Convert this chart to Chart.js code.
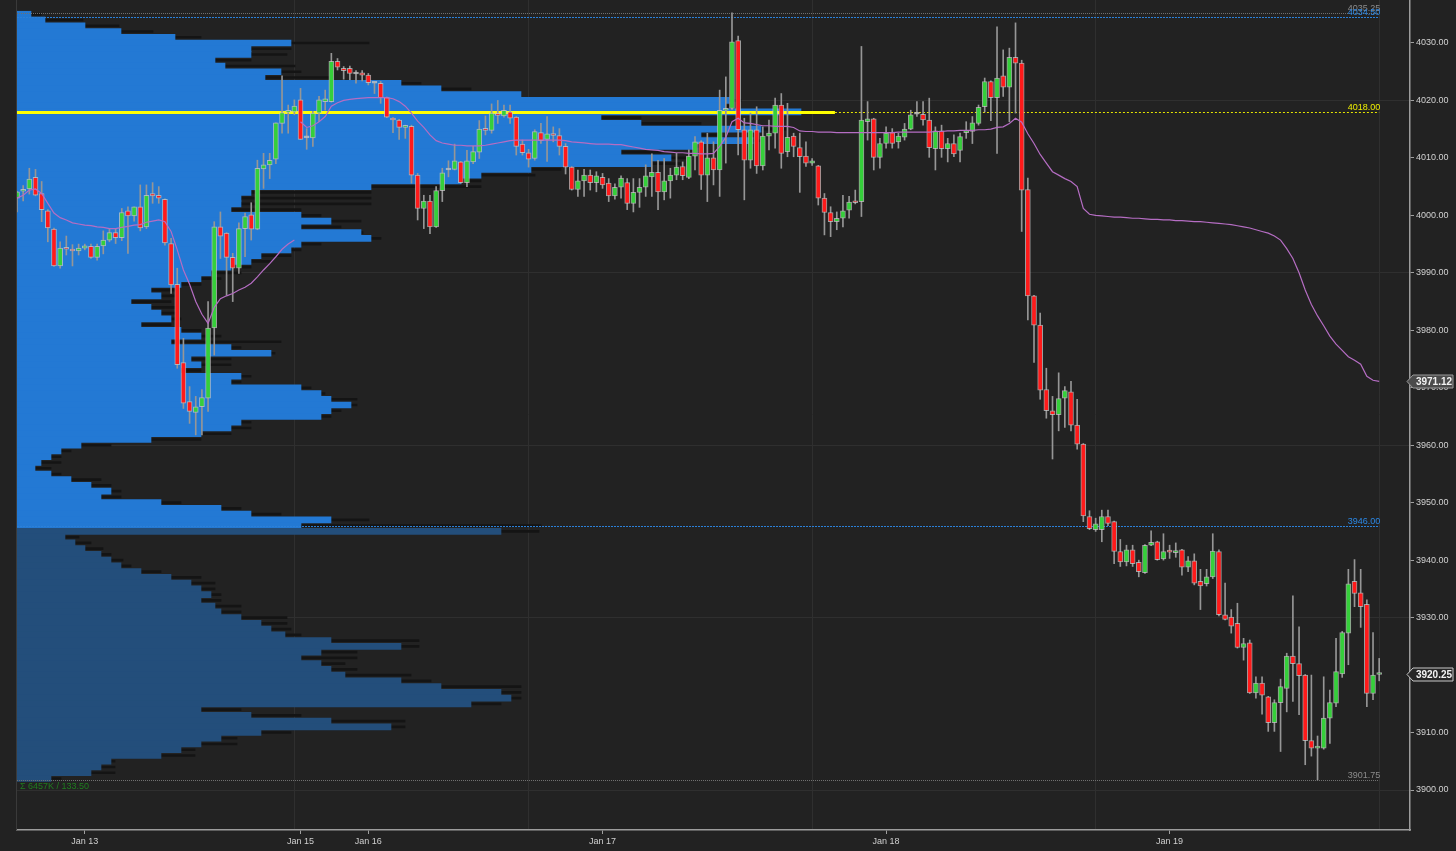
<!DOCTYPE html>
<html>
<head>
<meta charset="utf-8">
<title>ES 30 min</title>
<script src="https://cdn.jsdelivr.net/npm/chart.js@4.4.1/dist/chart.umd.min.js"></script>
<style>
  html, body { margin: 0; padding: 0; background: #222222; }
  #wrap { width: 1456px; height: 851px; position: relative; }
</style>
</head>
<body>
<div id="wrap"><canvas id="chart" width="1456" height="851"></canvas></div>
<script>
// 30 minute bars, Jan 12 evening to Jan 19 afternoon
const slotCount = 227; // time slots on the axis, the last ones are empty

const opens = [
  4003.0, 4004.2, 4004.6, 4006.6, 4003.8, 4000.8, 3997.6, 3991.2, 3994.3, 3994.1,
  3993.8, 3994.3, 3994.6, 3992.7, 3994.7, 3995.7, 3997.0, 3996.1, 4000.8, 3999.9,
  4001.5, 3998.0, 4003.8, 4003.5, 4002.8, 3995.1, 3988.0, 3974.4, 3967.6, 3965.7,
  3966.7, 3968.2, 3980.4, 3998.0, 3996.9, 3992.7, 3990.8, 3997.7, 4000.1, 3997.6,
  4008.1, 4008.8, 4009.8, 4016.0, 4017.9, 4018.0, 4020.1, 4013.5, 4013.5, 4017.8,
  4019.8, 4019.8, 4026.8, 4025.6, 4025.6, 4024.6, 4024.8, 4024.4, 4023.0, 4023.0,
  4020.5, 4016.9, 4016.6, 4015.3, 4015.5, 4007.0, 4001.2, 4002.5, 3998.0, 4004.3,
  4007.9, 4008.0, 4009.3, 4005.7, 4009.3, 4011.0, 4015.1, 4014.8, 4017.6, 4017.3,
  4018.0, 4017.1, 4012.4, 4010.9, 4009.9, 4014.4, 4013.2, 4014.2, 4013.9, 4012.0,
  4008.4, 4004.5, 4006.0, 4007.0, 4005.7, 4006.6, 4005.6, 4003.4, 4004.9, 4005.7,
  4002.1, 4004.0, 4004.9, 4006.7, 4007.5, 4004.1, 4006.0, 4007.0, 4008.5, 4006.6,
  4010.3, 4012.8, 4007.0, 4010.0, 4007.9, 4018.3, 4018.6, 4030.4, 4014.9, 4009.6,
  4014.9, 4008.6, 4013.8, 4014.3, 4019.2, 4011.1, 4013.8, 4011.8, 4010.3, 4009.1,
  4008.6, 4003.0, 4000.5, 3998.9, 3999.5, 4000.9, 4002.3, 4002.4, 4016.3, 4016.8,
  4010.1, 4012.5, 4014.4, 4012.8, 4013.6, 4015.0, 4017.6, 4017.6, 4016.6, 4011.6,
  4014.7, 4011.6, 4012.5, 4011.3, 4014.4, 4014.6, 4016.0, 4018.9, 4023.3, 4020.5,
  4024.3, 4022.3, 4027.5, 4026.5, 4004.5, 3986.0, 3980.9, 3969.7, 3966.0, 3965.3,
  3968.2, 3969.3, 3963.5, 3960.2, 3947.6, 3945.3, 3945.3, 3947.6, 3946.7, 3941.5,
  3939.7, 3941.8, 3939.6, 3937.8, 3942.6, 3943.2, 3940.2, 3941.5, 3941.3, 3941.8,
  3938.8, 3939.9, 3936.3, 3935.9, 3937.1, 3941.5, 3930.5, 3930.1, 3929.0, 3924.8,
  3925.6, 3916.9, 3918.6, 3916.2, 3911.7, 3915.2, 3917.7, 3923.3, 3922.0, 3920.0,
  3908.6, 3907.3, 3907.3, 3912.5, 3915.1, 3920.2, 3927.3, 3936.3, 3934.3, 3932.3,
  3916.8, 3920.1
];

const highs = [
  4004.2, 4005.2, 4008.2, 4008.0, 4005.9, 4001.0, 3997.8, 3995.4, 3996.4, 3994.9,
  3995.0, 3995.0, 3995.0, 3995.0, 3997.3, 3997.7, 3997.7, 4001.2, 4001.5, 4001.5,
  4005.3, 4005.3, 4005.7, 4005.0, 4002.9, 3996.0, 3990.8, 3978.6, 3970.2, 3968.5,
  3969.7, 3985.0, 3998.9, 4000.6, 3997.0, 3993.4, 3998.7, 4000.4, 4002.2, 4009.6,
  4010.8, 4010.8, 4016.1, 4024.3, 4019.2, 4020.1, 4022.1, 4015.1, 4018.1, 4020.7,
  4021.8, 4028.2, 4027.3, 4025.9, 4026.0, 4025.2, 4025.2, 4024.7, 4023.1, 4023.3,
  4020.6, 4017.0, 4016.7, 4015.7, 4015.7, 4007.3, 4003.5, 4003.5, 4005.0, 4008.2,
  4009.5, 4012.4, 4009.4, 4011.3, 4012.0, 4016.5, 4017.3, 4019.4, 4020.0, 4019.2,
  4019.2, 4017.2, 4013.1, 4011.5, 4014.9, 4016.0, 4017.2, 4015.4, 4015.1, 4012.5,
  4008.5, 4007.9, 4008.0, 4007.9, 4007.6, 4007.3, 4006.4, 4005.5, 4006.9, 4006.4,
  4006.4, 4006.4, 4008.8, 4010.7, 4009.6, 4009.9, 4008.2, 4010.8, 4009.3, 4011.4,
  4013.7, 4013.0, 4014.3, 4012.8, 4021.8, 4024.1, 4035.25, 4031.2, 4016.9, 4017.8,
  4018.9, 4015.4, 4016.6, 4020.4, 4021.2, 4019.5, 4014.3, 4014.3, 4012.8, 4009.9,
  4008.7, 4003.8, 4001.5, 4000.6, 4003.5, 4003.3, 4004.4, 4029.4, 4019.8, 4016.9,
  4013.4, 4015.4, 4015.1, 4014.3, 4016.0, 4018.3, 4019.8, 4019.8, 4020.4, 4015.4,
  4015.7, 4013.4, 4014.0, 4014.3, 4016.3, 4017.2, 4019.2, 4023.9, 4023.4, 4032.8,
  4028.8, 4029.1, 4033.5, 4027.0, 4006.5, 3986.1, 3983.0, 3973.4, 3968.5, 3972.6,
  3970.2, 3971.1, 3968.0, 3960.3, 3948.6, 3947.3, 3948.7, 3948.7, 3946.8, 3943.6,
  3942.6, 3942.6, 3940.0, 3942.7, 3945.1, 3943.3, 3944.6, 3942.6, 3943.0, 3941.9,
  3940.6, 3941.1, 3938.4, 3938.4, 3944.6, 3941.8, 3936.0, 3931.4, 3932.5, 3926.4,
  3926.1, 3919.7, 3919.7, 3916.3, 3915.7, 3919.3, 3923.8, 3933.8, 3928.4, 3920.1,
  3920.0, 3909.4, 3919.7, 3917.4, 3926.4, 3927.6, 3938.4, 3940.1, 3938.4, 3933.1,
  3927.4, 3922.9
];

const lows = [
  4000.6, 4002.5, 4003.7, 4003.4, 3998.9, 3995.4, 3991.1, 3990.8, 3993.1, 3991.2,
  3993.1, 3994.0, 3992.5, 3992.2, 3993.3, 3995.4, 3995.1, 3995.6, 3993.4, 3999.0,
  3997.3, 3997.7, 4002.1, 4002.1, 3994.8, 3986.4, 3973.4, 3966.4, 3963.8, 3961.8,
  3961.8, 3965.9, 3975.7, 3992.5, 3986.1, 3985.0, 3989.9, 3992.8, 3995.7, 3997.5,
  4004.7, 4006.4, 4009.0, 4014.3, 4014.3, 4017.5, 4013.2, 4011.5, 4012.0, 4016.3,
  4018.3, 4019.7, 4025.3, 4023.7, 4023.6, 4023.0, 4023.4, 4022.7, 4021.2, 4019.5,
  4017.0, 4014.4, 4013.2, 4013.4, 4005.6, 3999.2, 3997.7, 3996.8, 3997.9, 4002.4,
  4006.7, 4007.9, 4005.6, 4005.0, 4009.0, 4009.9, 4014.0, 4014.3, 4016.0, 4017.1,
  4016.0, 4010.5, 4010.5, 4008.4, 4009.6, 4012.5, 4009.4, 4012.8, 4010.5, 4007.2,
  4004.4, 4003.3, 4003.3, 4004.4, 4004.1, 4004.7, 4002.4, 4002.8, 4003.0, 4001.0,
  4000.6, 4001.4, 4003.3, 4003.3, 4001.0, 4002.7, 4003.0, 4006.2, 4006.2, 4006.4,
  4007.9, 4004.5, 4002.4, 4005.3, 4003.3, 4009.1, 4018.4, 4010.5, 4002.7, 4008.2,
  4007.3, 4007.9, 4011.4, 4011.7, 4008.2, 4010.2, 4010.2, 4004.0, 4008.5, 4008.7,
  4001.8, 3996.6, 3996.3, 3997.5, 3998.0, 3999.5, 4002.0, 3999.8, 4013.1, 4007.9,
  4008.2, 4011.7, 4011.7, 4011.7, 4013.1, 4014.9, 4017.2, 4015.7, 4010.1, 4007.9,
  4010.1, 4009.3, 4010.2, 4009.3, 4013.4, 4012.5, 4015.7, 4018.0, 4016.5, 4010.8,
  4020.7, 4016.3, 4017.8, 3997.2, 3981.8, 3974.4, 3968.0, 3964.7, 3957.6, 3962.5,
  3963.1, 3962.5, 3959.3, 3946.7, 3945.3, 3945.0, 3943.2, 3946.0, 3939.4, 3938.9,
  3939.0, 3938.9, 3937.1, 3937.7, 3942.5, 3940.0, 3940.0, 3940.3, 3940.5, 3937.4,
  3938.0, 3935.7, 3931.4, 3935.5, 3936.8, 3930.3, 3929.6, 3927.3, 3924.7, 3922.6,
  3916.8, 3916.0, 3913.2, 3910.2, 3910.2, 3906.7, 3913.6, 3915.4, 3913.1, 3904.4,
  3905.9, 3901.75, 3907.1, 3908.1, 3914.5, 3919.6, 3921.8, 3931.9, 3928.3, 3914.5,
  3915.7, 3919.0
];

const closes = [
  4004.1, 4004.5, 4006.3, 4003.5, 4001.0, 3997.8, 3991.2, 3994.3, 3994.1, 3993.8,
  3994.3, 3994.7, 3992.7, 3994.6, 3995.7, 3997.0, 3996.1, 4000.5, 3999.9, 4001.5,
  3997.8, 4003.5, 4003.4, 4003.0, 3995.2, 3987.9, 3974.0, 3967.3, 3965.9, 3966.7,
  3968.3, 3980.4, 3998.0, 3996.4, 3992.7, 3990.8, 3997.7, 3999.8, 3997.6, 4008.2,
  4008.8, 4009.6, 4016.1, 4017.9, 4018.3, 4019.0, 4013.2, 4013.5, 4017.8, 4020.1,
  4020.3, 4026.8, 4025.8, 4025.2, 4024.7, 4024.6, 4024.4, 4023.1, 4023.0, 4020.5,
  4017.1, 4016.6, 4015.3, 4015.5, 4007.0, 4001.2, 4002.5, 3998.0, 4004.3, 4007.4,
  4007.9, 4009.5, 4005.7, 4009.5, 4011.1, 4015.0, 4014.8, 4017.8, 4017.4, 4018.3,
  4016.9, 4012.0, 4010.9, 4009.8, 4014.6, 4013.0, 4014.2, 4013.9, 4012.0, 4008.4,
  4004.5, 4006.0, 4007.0, 4005.7, 4006.9, 4005.3, 4003.4, 4004.9, 4006.5, 4002.1,
  4004.0, 4004.9, 4006.9, 4007.5, 4004.1, 4006.0, 4007.0, 4008.4, 4006.9, 4010.3,
  4012.8, 4007.0, 4010.0, 4007.9, 4018.3, 4018.5, 4030.2, 4014.9, 4009.6, 4014.9,
  4008.6, 4013.8, 4014.3, 4019.2, 4010.8, 4013.6, 4012.0, 4010.2, 4009.1, 4009.5,
  4003.0, 4000.5, 3998.9, 3999.5, 4000.8, 4002.3, 4002.2, 4016.6, 4016.8, 4010.1,
  4012.5, 4014.3, 4012.5, 4013.8, 4015.0, 4017.5, 4017.6, 4016.6, 4011.8, 4014.7,
  4011.6, 4012.5, 4010.7, 4013.7, 4014.6, 4016.1, 4018.8, 4023.3, 4020.5, 4023.9,
  4022.3, 4027.5, 4026.5, 4004.4, 3986.0, 3980.9, 3969.6, 3966.0, 3965.3, 3968.1,
  3969.5, 3963.5, 3960.2, 3947.7, 3945.5, 3946.3, 3947.6, 3946.4, 3941.5, 3939.7,
  3941.8, 3939.4, 3938.0, 3942.6, 3943.1, 3940.1, 3941.5, 3941.4, 3941.6, 3938.8,
  3939.9, 3936.0, 3935.5, 3937.1, 3941.6, 3930.5, 3929.7, 3928.5, 3924.8, 3925.5,
  3916.9, 3918.6, 3916.5, 3911.7, 3915.2, 3918.0, 3923.3, 3922.0, 3919.9, 3908.6,
  3907.3, 3907.5, 3912.5, 3915.2, 3920.6, 3927.4, 3935.9, 3934.2, 3931.9, 3916.8,
  3920.0, 3920.25
];

// VWAP, restarts with the Sunday open (bar 46)
const vwap = [
  4003.0, 4003.5, 4004.4, 4004.6, 4003.8, 4002.1, 4000.4, 3999.6, 3999.2, 3998.7,
  3998.5, 3998.3, 3998.2, 3998.0, 3997.9, 3997.7, 3997.7, 3997.9, 3998.1, 3998.3,
  3998.4, 3998.8, 3999.0, 3999.2, 3998.9, 3997.2, 3994.0, 3990.5, 3988.0, 3985.0,
  3982.8, 3981.2, 3984.0, 3985.5, 3986.0, 3986.4, 3987.0, 3987.5, 3988.2, 3989.3,
  3990.5, 3991.6, 3992.8, 3994.1, 3995.0, 3995.7,
  4016.3, 4015.3, 4015.6, 4016.3,
  4017.2, 4019.0, 4019.6, 4020.0, 4020.2, 4020.3, 4020.4, 4020.5, 4020.5, 4020.5,
  4020.5, 4020.3, 4019.8, 4019.0, 4017.8, 4016.4, 4015.3, 4014.0, 4013.0, 4012.6,
  4012.4, 4012.2, 4012.2, 4012.1, 4012.1, 4012.1, 4012.2, 4012.4, 4012.6, 4012.8,
  4013.0, 4013.1, 4013.1, 4013.1, 4013.1, 4013.1, 4013.1, 4013.1, 4013.1, 4013.0,
  4012.8, 4012.7, 4012.6, 4012.5, 4012.4, 4012.4, 4012.4, 4012.3, 4012.3, 4012.1,
  4011.9, 4011.7, 4011.5, 4011.4, 4011.3, 4011.1, 4011.0, 4010.9, 4010.9, 4010.8,
  4010.8, 4010.7, 4010.7, 4010.8, 4012.0, 4013.6, 4016.3, 4016.9, 4016.1, 4016.0,
  4015.8, 4015.6, 4015.6, 4015.5, 4015.5, 4015.5, 4015.3, 4014.7, 4014.6, 4014.6,
  4014.5, 4014.5, 4014.5, 4014.4, 4014.4, 4014.4, 4014.4, 4014.4, 4014.4, 4014.4,
  4014.4, 4014.4, 4014.4, 4014.5, 4014.5, 4014.5, 4014.5, 4014.5, 4014.5, 4014.6,
  4014.6, 4014.7, 4014.7, 4014.8, 4014.8, 4014.8, 4014.9, 4014.9, 4015.0, 4015.3,
  4015.4, 4016.0, 4016.9, 4016.2, 4014.2, 4012.5, 4010.6, 4009.1, 4007.6, 4007.0,
  4006.4, 4005.9, 4005.0, 4001.2, 4000.2, 4000.0, 3999.9, 3999.8, 3999.7, 3999.7,
  3999.6, 3999.5, 3999.5, 3999.4, 3999.3, 3999.3, 3999.2, 3999.2, 3999.1, 3999.1,
  3999.0, 3998.9, 3998.9, 3998.8, 3998.7, 3998.6, 3998.5, 3998.4, 3998.2, 3998.0,
  3997.8, 3997.5, 3997.2, 3996.9, 3996.4, 3995.7, 3994.2, 3992.5, 3990.0, 3987.0,
  3984.5, 3982.5, 3980.8, 3979.0, 3977.6, 3976.5, 3975.4, 3974.8, 3974.1, 3972.0,
  3971.3, 3971.12
];
const vwapResetIdx = 46;

const dayTickIdx = [11, 46, 57, 95, 141, 187];
const dayTickText = ['Jan 13', 'Jan 15', 'Jan 16', 'Jan 17', 'Jan 18', 'Jan 19'];
const sessionBreaks = [45, 83, 129, 175, 221];

// volume profile, one row per point from 4035 down to 3902, in K contracts
const profileTop = 4035;
const profileVol = [
  0.7, 1.4, 3.4, 5.2, 7.9, 13.7, 11.7, 11.7, 9.9, 10.4,
  13.2, 12.4, 19.2, 21.2, 25.2, 35.6, 35.4, 39.2, 29.2, 31.2,
  37.2, 34.2, 36.8, 33.8, 30.2, 32.7, 31.7, 25.7, 23.2, 22.2,
  17.7, 11.7, 11.2, 11.2, 10.7, 14.2, 15.7, 14.2, 17.2, 17.7,
  14.2, 13.7, 12.2, 11.7, 10.7, 9.7, 9.2, 8.2, 6.7, 7.2,
  5.7, 6.7, 7.2, 7.7, 6.2, 8.2, 9.2, 7.7, 10.7, 12.7,
  8.7, 9.2, 8.2, 11.2, 10.7, 14.2, 15.2, 15.7, 16.7, 15.7,
  15.2, 11.2, 10.7, 9.2, 6.7, 3.2, 2.2, 1.7, 1.2, 0.9,
  1.7, 2.7, 3.7, 4.7, 4.2, 7.2, 10.2, 11.7, 15.7, 14.2,
  24.2, 2.4, 2.9, 3.4, 4.2, 4.7, 5.2, 6.2, 7.7, 8.7,
  9.2, 9.7, 9.2, 9.9, 10.2, 11.2, 12.2, 12.7, 13.4, 15.7,
  19.2, 15.2, 14.2, 15.2, 15.7, 16.4, 19.2, 21.2, 24.2, 24.7,
  22.7, 9.2, 11.7, 15.7, 18.7, 12.2, 10.2, 9.2, 8.2, 7.2,
  4.7, 4.2, 3.7, 1.7
];
// largest single tick row inside each one point row (the dark edges)
const profileVolMax = [
  1.2, 3.3, 5.1, 6.8, 9.2, 17.6, 13.7, 13.5, 11.7, 13.9,
  14.2, 15.7, 20.2, 22.7, 25.2, 36.2, 35.6, 39.2, 31.2, 34.2,
  38.5, 35.2, 37.2, 34.2, 32.2, 33.7, 33.2, 27.2, 25.9, 23.2,
  23.2, 17.7, 17.7, 17.7, 14.2, 15.2, 17.2, 16.2, 17.3, 18.2,
  15.2, 14.2, 13.7, 12.7, 11.7, 11.2, 10.2, 9.2, 7.9, 7.9,
  7.7, 7.9, 7.9, 8.2, 7.7, 9.2, 10.2, 13.2, 11.2, 12.9,
  10.7, 10.7, 9.2, 11.7, 11.2, 14.7, 15.4, 17.0, 17.0, 16.2,
  15.7, 11.7, 11.7, 10.7, 9.2, 4.7, 2.7, 2.2, 2.2, 1.7,
  2.2, 4.2, 4.7, 5.2, 5.2, 8.2, 11.2, 13.2, 17.6, 26.2,
  26.1, 3.1, 3.7, 4.3, 4.7, 5.3, 5.7, 7.2, 9.2, 9.9,
  9.9, 10.2, 10.2, 11.2, 11.2, 13.5, 13.5, 13.7, 14.2, 20.1,
  20.1, 17.0, 17.0, 16.4, 17.0, 19.7, 20.7, 25.2, 25.2, 25.2,
  24.2, 11.2, 14.2, 19.4, 19.4, 13.7, 11.0, 11.0, 8.9, 8.9,
  4.9, 4.9, 4.9, 2.2
];
const profilePrices = profileVol.map((v, i) => profileTop - i);
const valueAreaLow = 3946;
const totalVolumeK = 6457;

// reference levels: high, value area high, POC, value area low, low
const levels = [4035.25, 4034.50, 4018.00, 3946.00, 3901.75];
const pocLevel = 2;
const pocSolidUntil = 132.7; // bar slot where the POC line stops being drawn thick

const FONT = "'Liberation Sans', Arial, sans-serif";
const UP = '#35cf3a', DOWN = '#ff1a1a', FLAT = '#c4c4c4';

const levelStyle = [
  { line: '#6f6f6f', text: '#8c8c8c', dash: [1, 1] },
  { line: '#2b80d8', text: '#2b88e6', dash: [2, 1] },
  { line: '#e6e600', text: '#eeee00', dash: [2, 2] },
  { line: '#2b80d8', text: '#2b88e6', dash: [2, 1] },
  { line: '#707070', text: '#8c8c8c', dash: [1, 1] }
];

function bodyColor(i) {
  if (closes[i] > opens[i]) return UP;
  if (closes[i] < opens[i]) return DOWN;
  return FLAT;
}

function priceTag(ctx, xTip, y, text, fill, stroke) {
  const h = 13, xb = xTip + 6, xe = xTip + 46;
  ctx.beginPath();
  ctx.moveTo(xTip, y);
  ctx.lineTo(xb, y - h / 2);
  ctx.lineTo(xe, y - h / 2);
  ctx.lineTo(xe, y + h / 2);
  ctx.lineTo(xb, y + h / 2);
  ctx.closePath();
  ctx.fillStyle = fill;
  ctx.fill();
  ctx.strokeStyle = stroke;
  ctx.lineWidth = 1;
  ctx.stroke();
  ctx.fillStyle = '#f2f2f2';
  ctx.font = 'bold 10px ' + FONT;
  ctx.textAlign = 'center';
  ctx.textBaseline = 'middle';
  ctx.fillText(text, (xb + xe) / 2 + 1, y + 0.5);
}

const overlay = {
  id: 'overlay',
  beforeDatasetsDraw(chart) {
    // thin frame line on the left edge of the plot
    const { ctx, chartArea: a } = chart;
    ctx.save();
    ctx.strokeStyle = '#3a3a3a';
    ctx.lineWidth = 1;
    ctx.beginPath(); ctx.moveTo(a.left - 0.5, a.top); ctx.lineTo(a.left - 0.5, a.bottom); ctx.stroke();
    ctx.restore();
  },
  afterDatasetDraw(chart, args) {
    if (args.index !== 3) return; // right after the profile
    const { ctx, chartArea: a, scales: { x, y } } = chart;
    const xEnd = x.getPixelForValue(opens.length - 1);
    ctx.save();
    levels.forEach((p, k) => {
      const py = Math.round(y.getPixelForValue(p)) + 0.5;
      let x0 = a.left;
      if (k === pocLevel) {
        const xs = x.getPixelForValue(pocSolidUntil);
        ctx.setLineDash([]);
        ctx.lineWidth = 3;
        ctx.strokeStyle = '#ffff00';
        ctx.beginPath(); ctx.moveTo(a.left, py); ctx.lineTo(xs, py); ctx.stroke();
        x0 = xs;
      }
      ctx.setLineDash(levelStyle[k].dash);
      ctx.lineWidth = 1;
      ctx.strokeStyle = levelStyle[k].line;
      ctx.beginPath(); ctx.moveTo(x0, py); ctx.lineTo(xEnd, py); ctx.stroke();
    });
    ctx.restore();
  },
  afterDraw(chart) {
    const { ctx, chartArea: a, scales: { x, y } } = chart;
    const xEnd = x.getPixelForValue(opens.length - 1);
    ctx.save();
    ctx.font = '9px ' + FONT;
    ctx.textAlign = 'right';
    ctx.textBaseline = 'alphabetic';
    levels.forEach((p, k) => {
      ctx.fillStyle = levelStyle[k].text;
      ctx.fillText(p.toFixed(2), xEnd + 1, y.getPixelForValue(p) - 2);
    });

    const hi = Math.max(...highs), lo = Math.min(...lows);
    ctx.textAlign = 'left';
    ctx.textBaseline = 'middle';
    ctx.fillStyle = '#1f7d1f';
    ctx.fillText('\u03A3 ' + totalVolumeK + 'K / ' + (hi - lo).toFixed(2), a.left + 3, y.getPixelForValue(lo) + 7);

    const last = opens.length - 1;
    priceTag(ctx, a.right - 3, Math.round(y.getPixelForValue(vwap[last])) + 0.5,
      vwap[last].toFixed(2), '#4b4b4b', '#9a9a9a');
    priceTag(ctx, a.right - 3, Math.round(y.getPixelForValue(closes[last])) + 0.5,
      closes[last].toFixed(2), '#262626', '#c8c8c8');
    ctx.restore();
  }
};

const slots = [];
for (let i = 0; i < slotCount; i++) slots.push(String(i));

new Chart(document.getElementById('chart'), {
  type: 'bar',
  data: {
    labels: slots,
    datasets: [
      {
        label: 'wicks',
        data: lows.map((l, i) => [l, highs[i]]),
        xAxisID: 'x', yAxisID: 'y',
        backgroundColor: '#969696',
        barThickness: 1,
        grouped: false,
        order: 3
      },
      {
        label: 'bodies',
        data: opens.map((o, i) => [Math.min(o, closes[i]), Math.max(o, closes[i])]),
        xAxisID: 'x', yAxisID: 'y',
        backgroundColor: ctx => bodyColor(ctx.dataIndex),
        borderColor: 'rgba(200,200,200,0.75)',
        borderWidth: 1,
        borderSkipped: false,
        barThickness: 5,
        minBarLength: 2,
        grouped: false,
        order: 2
      },
      {
        type: 'line',
        label: 'VWAP',
        data: vwap,
        xAxisID: 'x', yAxisID: 'y',
        borderColor: '#b56dc3',
        borderWidth: 1.2,
        pointRadius: 0,
        tension: 0,
        segment: {
          borderColor: ctx => ctx.p1DataIndex === vwapResetIdx ? 'rgba(0,0,0,0)' : undefined
        },
        order: 1
      },
      {
        label: 'profile',
        indexAxis: 'y',
        data: profileVol.map((v, i) => ({ x: v, y: profilePrices[i] })),
        xAxisID: 'xv', yAxisID: 'y',
        backgroundColor: ctx => profilePrices[ctx.dataIndex] >= valueAreaLow ? '#2379d4' : '#234e7b',
        barThickness: 6,
        grouped: false,
        order: 10
      },
      {
        label: 'profile max tick',
        indexAxis: 'y',
        data: profileVolMax.map((v, i) => ({ x: v, y: profilePrices[i] })),
        xAxisID: 'xv', yAxisID: 'y',
        backgroundColor: '#141414',
        barThickness: 2,
        grouped: false,
        order: 11
      }
    ]
  },
  options: {
    responsive: false,
    animation: false,
    events: [],
    layout: { padding: { left: 17, top: 0, right: 0, bottom: 0 } },
    plugins: { legend: { display: false }, tooltip: { enabled: false } },
    scales: {
      x: {
        type: 'category',
        offset: false,
        grid: {
          offset: false,
          color: c => sessionBreaks.includes(c.index) ? '#2f2f2f' : 'rgba(0,0,0,0)',
          tickColor: c => dayTickIdx.includes(c.index) ? '#a0a0a0' : 'rgba(0,0,0,0)',
          tickLength: 4
        },
        border: { color: '#9c9c9c', width: 1.5 },
        ticks: {
          autoSkip: false,
          maxRotation: 0,
          minRotation: 0,
          padding: 2,
          color: '#cfcfcf',
          font: { size: 9, family: FONT },
          callback: (v, i) => {
            const k = dayTickIdx.indexOf(i);
            return k >= 0 ? dayTickText[k] : '';
          }
        },
        afterFit: s => { s.height = 21; s.paddingLeft = 0; s.paddingRight = 0; }
      },
      xv: {
        type: 'linear',
        axis: 'x',
        position: 'bottom',
        display: false,
        offset: false,
        grid: { offset: false },
        min: 0,
        max: 69.65
      },
      y: {
        type: 'linear',
        position: 'right',
        offset: false,
        min: 3893.04,
        max: 4037.48,
        grid: {
          offset: false,
          color: c => c.tick && Math.round(c.tick.value) % 30 === 0 ? '#2f2f2f' : 'rgba(0,0,0,0)',
          tickColor: '#a0a0a0',
          tickLength: 4
        },
        border: { color: '#9c9c9c', width: 1.5 },
        ticks: {
          stepSize: 10,
          includeBounds: false,
          padding: 2,
          color: '#d2d2d2',
          font: { size: 9, family: FONT },
          callback: v => v.toFixed(2)
        },
        afterFit: s => { s.width = 46; s.paddingTop = 0; s.paddingBottom = 0; }
      }
    }
  },
  plugins: [overlay]
});
</script>
</body>
</html>
